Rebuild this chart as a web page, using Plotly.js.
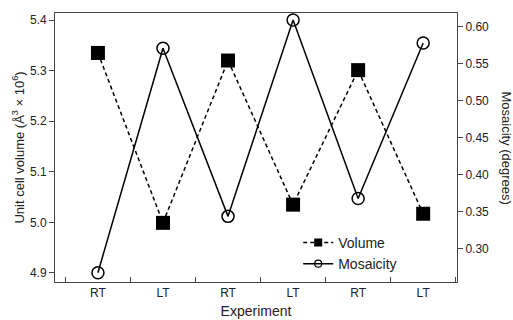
<!DOCTYPE html>
<html>
<head>
<meta charset="utf-8">
<script src="https://cdn.plot.ly/plotly-3.0.1.min.js"></script>
<style>html,body{margin:0;padding:0;background:#fff;}#chart{width:513px;height:320px;}</style>
</head>
<body>
<div id="chart"></div>
<script>
var experiments = ["RT", "LT", "RT", "LT", "RT", "LT"];
var volume = [5.335, 4.999, 5.320, 5.035, 5.301, 5.017];
var mosaicity = [0.268, 0.571, 0.344, 0.609, 0.368, 0.578];
var positions = experiments.map(function (_, i) { return i; });

var font = "Liberation Sans, Arial, Helvetica, sans-serif";
var volDash = "4px,3px";

var traces = [
  {
    x: positions, y: volume, name: "Volume", type: "scatter", mode: "lines+markers",
    line: {color: "#000", width: 1.5, dash: volDash},
    marker: {symbol: "square", size: 14, color: "#000"},
    yaxis: "y", showlegend: false
  },
  {
    x: positions, y: mosaicity, name: "Mosaicity", type: "scatter", mode: "lines+markers",
    line: {color: "#000", width: 1.5},
    marker: {symbol: "circle-open", size: 12, color: "#000", line: {width: 1.5, color: "#000"}},
    yaxis: "y2", showlegend: false
  },
  {
    x: [null], y: [null], name: "Volume", type: "scatter", mode: "lines+markers",
    line: {color: "#000", width: 1.5, dash: volDash},
    marker: {symbol: "square", size: 8, color: "#000"}, showlegend: true
  },
  {
    x: [null], y: [null], name: "Mosaicity", type: "scatter", mode: "lines+markers",
    line: {color: "#000", width: 1.5},
    marker: {symbol: "circle-open", size: 7, color: "#000", line: {width: 1.2, color: "#000"}},
    showlegend: true
  }
];

var layout = {
  width: 513, height: 320,
  margin: {l: 55, r: 56, t: 13, b: 38},
  paper_bgcolor: "#fff", plot_bgcolor: "#fff",
  font: {family: font, color: "#222", size: 12},
  showlegend: true,
  legend: {x: 0.605, y: 0.205, xanchor: "left", yanchor: "top", bgcolor: "rgba(0,0,0,0)",
    font: {size: 14, color: "#222"}, itemwidth: 30, tracegroupgap: 0},
  xaxis: {
    range: [-0.66, 5.52], showgrid: false, zeroline: false,
    showline: true, linecolor: "#444", linewidth: 1, mirror: true,
    tickmode: "array", tickvals: positions, ticktext: experiments, ticks: "",
    tickfont: {size: 12},
    minor: {ticks: "inside", tick0: -0.5, dtick: 1, ticklen: 5, tickcolor: "#444"},
    title: {text: "Experiment", font: {size: 14}, standoff: 6}
  },
  yaxis: {
    range: [4.882, 5.414], showgrid: false, zeroline: false,
    showline: true, linecolor: "#444", linewidth: 1,
    ticks: "outside", ticklen: 5, tickcolor: "#444",
    tick0: 4.9, dtick: 0.1, tickformat: ".1f", tickfont: {size: 12},
    title: {text: "Unit cell volume (Å<sup>3</sup> × 10<sup>6</sup>)", font: {size: 13}, standoff: 2}
  },
  yaxis2: {
    overlaying: "y", side: "right",
    range: [0.2554, 0.6185], showgrid: false, zeroline: false,
    showline: true, linecolor: "#444", linewidth: 1,
    ticks: "outside", ticklen: 5, tickcolor: "#444",
    tick0: 0.3, dtick: 0.05, tickformat: ".2f", tickfont: {size: 12}
  },
  annotations: [
    {text: "Mosaicity (degrees)", xref: "paper", yref: "paper", x: 1.122, y: 0.5,
     xanchor: "center", yanchor: "middle", textangle: 90, showarrow: false,
     font: {size: 13, color: "#222"}}
  ]
};

Plotly.newPlot("chart", traces, layout, {displayModeBar: false, staticPlot: true});
</script>
</body>
</html>
